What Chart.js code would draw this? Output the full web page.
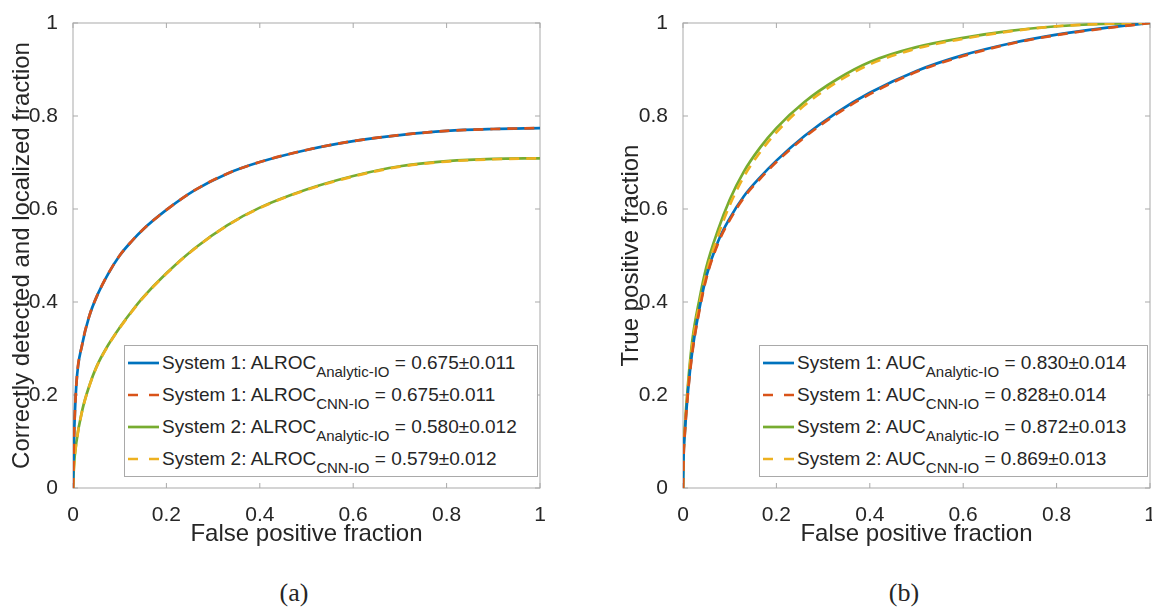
<!DOCTYPE html>
<html>
<head>
<meta charset="utf-8">
<script src="https://cdn.jsdelivr.net/npm/chart.js"></script>
<style>
  body { margin:0; background:#fff; width:1152px; height:613px; overflow:hidden; position:relative; font-family:"Liberation Sans", Arial, sans-serif; }
  .panel { position:absolute; top:0; }
  .legend { position:absolute; top:345px; height:132px; background:#fff; border:1px solid #a9a9a9; box-sizing:border-box; font-size:19px; color:#262626; padding-top:1px; }
  .row { height:32px; display:flex; align-items:center; white-space:nowrap; }
  .row svg { margin-left:3px; margin-right:3px; flex:none; }
  .row sub { font-size:15px; vertical-align:baseline; position:relative; top:8px; }
  .caption { position:absolute; top:580px; width:100px; text-align:center; font-family:"Liberation Serif", serif; font-size:26px; line-height:26px; color:#262626; }
</style>
</head>
<body>
<div class="panel" style="left:0px"><canvas id="chartA" width="576" height="560"></canvas></div>
<div class="panel" style="left:576px"><canvas id="chartB" width="576" height="560"></canvas></div>
<div class="legend" id="legendA" style="left:124px; width:414px"></div>
<div class="legend" id="legendB" style="left:759px; width:389px"></div>
<div class="caption" style="left:244px">(a)</div>
<div class="caption" style="left:854px">(b)</div>

<script>
// data
// (a) ALROC curves
const fpfA = [0, 0.002, 0.007, 0.02, 0.035, 0.05, 0.075, 0.1, 0.125, 0.15, 0.2, 0.26, 0.33, 0.4, 0.5, 0.6, 0.7, 0.8, 0.9, 1];
const alrocSys1Analytic = [0, 0.10, 0.22, 0.31, 0.37, 0.41, 0.46, 0.50, 0.53, 0.556, 0.598, 0.64, 0.676, 0.701, 0.727, 0.746, 0.759, 0.768, 0.772, 0.774];
const alrocSys1Cnn      = [0, 0.10, 0.22, 0.31, 0.37, 0.41, 0.46, 0.50, 0.53, 0.556, 0.598, 0.64, 0.676, 0.701, 0.727, 0.746, 0.759, 0.768, 0.772, 0.774];
const alrocSys2Analytic = [0, 0.047, 0.097, 0.168, 0.22, 0.26, 0.307, 0.345, 0.379, 0.41, 0.462, 0.515, 0.565, 0.603, 0.642, 0.671, 0.692, 0.703, 0.708, 0.709];
const alrocSys2Cnn      = [0, 0.046, 0.096, 0.167, 0.219, 0.259, 0.306, 0.344, 0.378, 0.409, 0.461, 0.514, 0.564, 0.602, 0.641, 0.670, 0.691, 0.702, 0.707, 0.709];

// (b) ROC curves
const fpfB = [0, 0.001, 0.004, 0.01, 0.02, 0.035, 0.05, 0.075, 0.1, 0.13, 0.165, 0.2, 0.26, 0.33, 0.4, 0.5, 0.6, 0.7, 0.8, 0.9, 1];
const aucSys1Analytic = [0, 0.06, 0.12, 0.20, 0.295, 0.385, 0.455, 0.53, 0.58, 0.627, 0.668, 0.704, 0.757, 0.808, 0.850, 0.897, 0.931, 0.956, 0.975, 0.989, 1];
const aucSys1Cnn      = [0, 0.058, 0.118, 0.197, 0.291, 0.381, 0.451, 0.526, 0.576, 0.624, 0.665, 0.701, 0.754, 0.805, 0.847, 0.895, 0.929, 0.955, 0.974, 0.988, 1];
const aucSys2Analytic = [0, 0.07, 0.13, 0.215, 0.318, 0.405, 0.475, 0.555, 0.62, 0.68, 0.732, 0.774, 0.83, 0.879, 0.916, 0.948, 0.968, 0.983, 0.993, 0.998, 1];
const aucSys2Cnn      = [0, 0.066, 0.125, 0.208, 0.308, 0.394, 0.462, 0.543, 0.608, 0.669, 0.722, 0.765, 0.823, 0.873, 0.911, 0.945, 0.966, 0.982, 0.993, 0.998, 1];

// legend text
const legendSystems = ['System 1', 'System 1', 'System 2', 'System 2'];
const legendSubs = ['Analytic-IO', 'CNN-IO', 'Analytic-IO', 'CNN-IO'];
const alrocValues = ['0.675', '0.675', '0.580', '0.579'];
const alrocErrors = ['0.011', '0.011', '0.012', '0.012'];
const aucValues = ['0.830', '0.828', '0.872', '0.869'];
const aucErrors = ['0.014', '0.014', '0.013', '0.013'];

const tickValues = [0, 0.2, 0.4, 0.6, 0.8, 1];
const colors = ['#0072BD', '#D95319', '#77AC30', '#EDB120'];
const dashed = [false, true, false, true];
const textColor = '#262626';
const axisColor = '#a9a9a9';

// box round the plot plus small inward ticks, like matlab
const boxTicks = {
    id: 'boxTicks',
    beforeDatasetsDraw(chart) {
        const {ctx, chartArea: a, scales: {x, y}} = chart;
        ctx.save();
        ctx.strokeStyle = axisColor;
        ctx.lineWidth = 1;
        ctx.strokeRect(a.left, a.top, a.right - a.left, a.bottom - a.top);
        ctx.beginPath();
        tickValues.forEach(v => {
            const px = x.getPixelForValue(v);
            const py = y.getPixelForValue(v);
            ctx.moveTo(px, a.bottom); ctx.lineTo(px, a.bottom - 5);
            ctx.moveTo(px, a.top); ctx.lineTo(px, a.top + 5);
            ctx.moveTo(a.left, py); ctx.lineTo(a.left + 5, py);
            ctx.moveTo(a.right, py); ctx.lineTo(a.right - 5, py);
        });
        ctx.stroke();
        ctx.restore();
    }
};

function makeDatasets(fpf, seriesList) {
    return seriesList.map((vals, i) => ({
        data: fpf.map((f, j) => ({x: f, y: vals[j]})),
        borderColor: colors[i],
        borderWidth: 2.7,
        borderDash: dashed[i] ? [10, 7] : [],
        pointRadius: 0,
        cubicInterpolationMode: 'monotone',
        order: dashed[i] ? 0 : 1,
        fill: false
    }));
}

function makeChart(canvas, datasets, yTitle, yAxisWidth, yTitlePad, padRight) {
    const tickFont = {family: '"Liberation Sans", Arial, sans-serif', size: 21};
    const titleFont = {family: '"Liberation Sans", Arial, sans-serif', size: 24, lineHeight: 1};
    return new Chart(canvas, {
        type: 'line',
        data: {datasets: datasets},
        options: {
            responsive: false,
            animation: false,
            layout: {padding: {top: 23, right: padRight, bottom: 0, left: 0}},
            plugins: {legend: {display: false}, tooltip: {enabled: false}},
            scales: {
                x: {
                    type: 'linear', min: 0, max: 1,
                    grid: {display: false}, border: {display: false},
                    ticks: {stepSize: 0.2, padding: 7, color: textColor, font: tickFont, maxRotation: 0,
                        callback: v => String(Math.round(v * 10) / 10)},
                    title: {display: true, text: 'False positive fraction', color: textColor, font: titleFont, padding: {top: 0, bottom: 14}},
                    afterFit(s) { s.height = 72; s.paddingLeft = 0; s.paddingRight = 0; }
                },
                y: {
                    type: 'linear', min: 0, max: 1,
                    grid: {display: false}, border: {display: false},
                    ticks: {stepSize: 0.2, padding: 7, color: textColor, font: tickFont,
                        callback: v => String(Math.round(v * 10) / 10)},
                    title: {display: true, text: yTitle, color: textColor, font: titleFont, padding: {top: yTitlePad, bottom: 0}},
                    afterFit(s) { s.width = yAxisWidth; }
                }
            }
        },
        plugins: [boxTicks]
    });
}

// legend as html so the subscripts work
function buildLegend(chart, el, metric, values, errors) {
    chart.data.datasets.forEach((ds, i) => {
        const dash = dashed[i] ? ' stroke-dasharray="10 11"' : '';
        el.innerHTML += '<div class="row"><svg width="31" height="6"><line x1="0" y1="3" x2="31" y2="3" stroke="' + ds.borderColor +
            '" stroke-width="2.7"' + dash + '/></svg><span>' + legendSystems[i] + ': ' + metric + '<sub>' + legendSubs[i] +
            '</sub> = ' + values[i] + '±' + errors[i] + '</span></div>';
    });
}

const chartA = makeChart(document.getElementById('chartA'),
    makeDatasets(fpfA, [alrocSys1Analytic, alrocSys1Cnn, alrocSys2Analytic, alrocSys2Cnn]),
    'Correctly detected and localized fraction', 73, 10.5, 36);
const chartB = makeChart(document.getElementById('chartB'),
    makeDatasets(fpfB, [aucSys1Analytic, aucSys1Cnn, aucSys2Analytic, aucSys2Cnn]),
    'True positive fraction', 107, 43, 2);

buildLegend(chartA, document.getElementById('legendA'), 'ALROC', alrocValues, alrocErrors);
buildLegend(chartB, document.getElementById('legendB'), 'AUC', aucValues, aucErrors);
</script>
</body>
</html>
